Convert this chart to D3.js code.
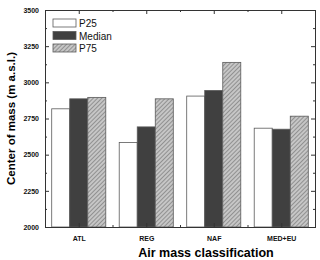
<!DOCTYPE html>
<html>
<head>
<meta charset="utf-8">
<script src="https://cdn.jsdelivr.net/npm/d3@7"></script>
<style>
  body { margin: 0; background: #fff; }
  svg { display: block; font-family: Arial, "Liberation Sans", sans-serif; }
</style>
</head>
<body>
<div id="chart"></div>
<script>
// data
var categories = ["ATL", "REG", "NAF", "MED+EU"];
var seriesNames = ["P25", "Median", "P75"];
var p25 = [2817, 2584, 2905, 2683];
var median = [2886, 2692, 2944, 2676];
var p75 = [2896, 2886, 3138, 2766];
var yTicks = [2000, 2250, 2500, 2750, 3000, 3250, 3500];

var series = [p25, median, p75];

var margin = {top: 10, right: 5, bottom: 33, left: 45},
    width = 320 - margin.left - margin.right,
    height = 260 - margin.top - margin.bottom;

var svg = d3.select("#chart")
  .append("svg")
  .attr("width", 320)
  .attr("height", 260);

// hatch for P75
var defs = svg.append("defs");
var pat = defs.append("pattern")
  .attr("id", "hatch")
  .attr("patternUnits", "userSpaceOnUse")
  .attr("width", 3).attr("height", 3)
  .attr("patternTransform", "rotate(45)");
pat.append("rect").attr("width", 3).attr("height", 3).attr("fill", "#c6c6c6");
pat.append("line").attr("x1", 0).attr("y1", 0).attr("x2", 0).attr("y2", 3)
  .attr("stroke", "#7a7a7a").attr("stroke-width", 1.4);

var fills = ["#ffffff", "#404040", "url(#hatch)"];

var g = svg.append("g")
  .attr("transform", "translate(" + margin.left + "," + margin.top + ")");

var x = d3.scaleLinear().domain([0.5, 4.5]).range([0, width]);
var y = d3.scaleLinear().domain([2000, 3500]).range([height, 0]);
var bw = 0.267;

// bars
series.forEach(function (vals, s) {
  g.selectAll(".bar" + s)
    .data(vals)
    .enter().append("rect")
    .attr("x", (d, i) => x(i + 1 + (s - 1.5) * bw))
    .attr("y", d => y(d))
    .attr("width", x(bw) - x(0))
    .attr("height", d => height - y(d))
    .attr("fill", fills[s])
    .attr("stroke", "#5a5a5a")
    .attr("stroke-width", 0.8);
});

// axes
var minorY = d3.range(2125, 3500, 250);
var catPos = categories.map((c, i) => i + 1);
var minorX = [1.5, 2.5, 3.5];

function styleAxis(sel) {
  sel.select(".domain").attr("stroke", "#333").attr("stroke-width", 1);
  sel.selectAll(".tick line").attr("stroke", "#333");
  sel.selectAll("text").attr("font-size", "7px").attr("font-weight", "bold").attr("fill", "#111");
}

g.append("g")
  .call(d3.axisLeft(y).tickValues(yTicks).tickSize(-4).tickSizeOuter(0).tickPadding(6)
    .tickFormat(d3.format("d")))
  .call(styleAxis);
g.append("g")
  .call(d3.axisLeft(y).tickValues(minorY).tickSize(-2).tickFormat(""))
  .call(styleAxis);

g.append("g")
  .attr("transform", "translate(" + width + ",0)")
  .call(d3.axisRight(y).tickValues(yTicks).tickSize(-4).tickSizeOuter(0).tickFormat(""))
  .call(styleAxis);
g.append("g")
  .attr("transform", "translate(" + width + ",0)")
  .call(d3.axisRight(y).tickValues(minorY).tickSize(-2).tickFormat(""))
  .call(styleAxis);

g.append("g")
  .attr("transform", "translate(0," + height + ")")
  .call(d3.axisBottom(x).tickValues(catPos).tickSize(-4).tickSizeOuter(0).tickPadding(9)
    .tickFormat((d, i) => categories[i]))
  .call(styleAxis);
g.append("g")
  .attr("transform", "translate(0," + height + ")")
  .call(d3.axisBottom(x).tickValues(minorX).tickSize(-2).tickFormat(""))
  .call(styleAxis);

g.append("g")
  .call(d3.axisTop(x).tickValues(catPos).tickSize(-4).tickSizeOuter(0).tickFormat(""))
  .call(styleAxis);
g.append("g")
  .call(d3.axisTop(x).tickValues(minorX).tickSize(-2).tickFormat(""))
  .call(styleAxis);

// axis titles
svg.append("text")
  .attr("x", 206)
  .attr("y", 257)
  .attr("text-anchor", "middle")
  .attr("font-size", "12.5px")
  .attr("font-weight", "bold")
  .text("Air mass classification");

svg.append("text")
  .attr("transform", "translate(15," + (margin.top + height / 2) + ") rotate(-90)")
  .attr("text-anchor", "middle")
  .attr("font-size", "11.5px")
  .attr("font-weight", "bold")
  .text("Center of mass (m a.s.l.)");

// legend
var leg = g.append("g").attr("transform", "translate(8,9)");
seriesNames.forEach(function (name, s) {
  leg.append("rect")
    .attr("x", 0).attr("y", s * 12.5)
    .attr("width", 23).attr("height", 8)
    .attr("fill", fills[s])
    .attr("stroke", "#5a5a5a").attr("stroke-width", 0.8);
  leg.append("text")
    .attr("x", 26).attr("y", s * 12.5 + 8)
    .attr("font-size", "10px")
    .attr("fill", "#111")
    .text(name);
});
</script>
</body>
</html>
